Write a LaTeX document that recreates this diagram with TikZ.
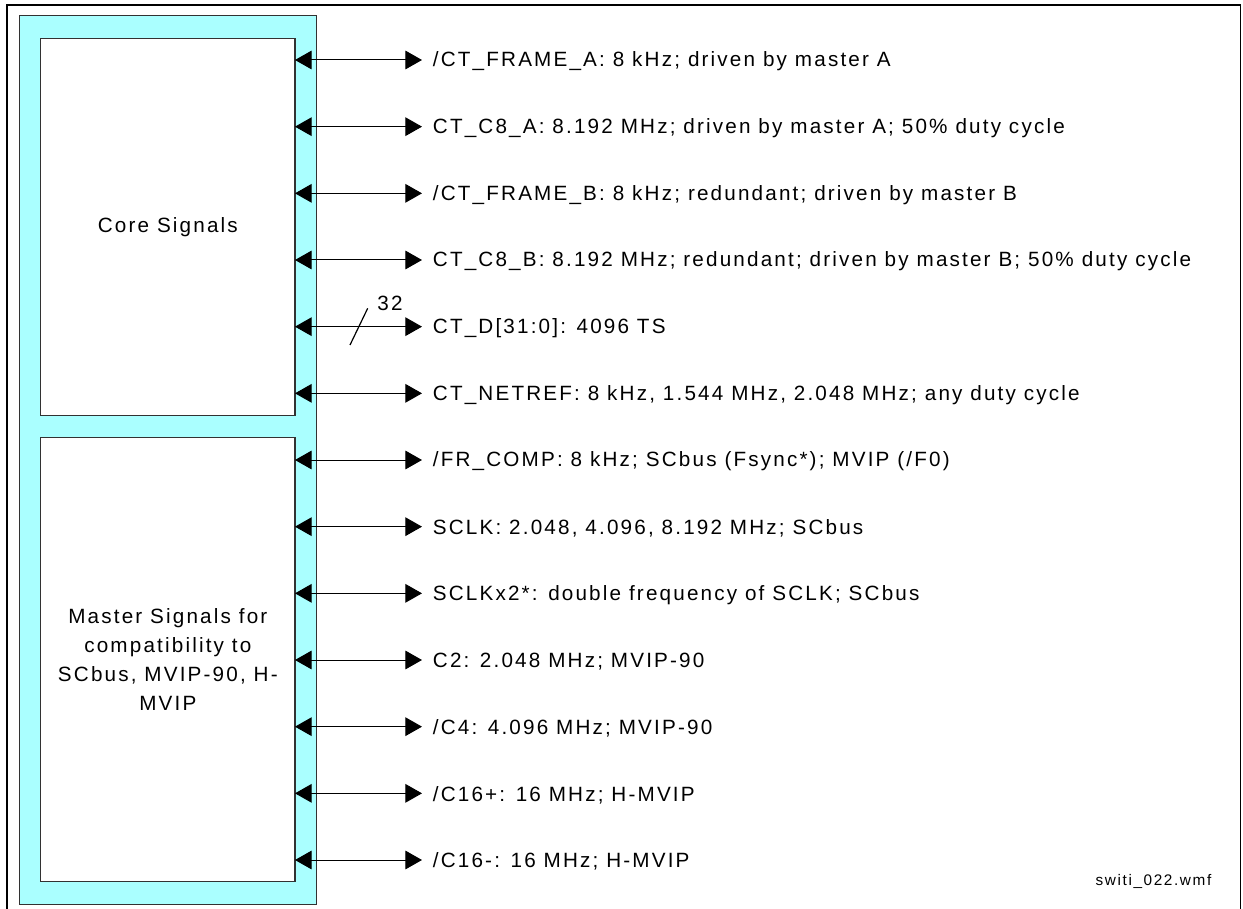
\documentclass[tikz,border=0pt]{standalone}
\usepackage{fontspec}
\setmainfont{Liberation Sans}[LetterSpace=10.5]
\usetikzlibrary{arrows.meta,fit}
\definecolor{lightcyan}{RGB}{170,255,255}
\definecolor{boxline}{RGB}{50,50,50}
\begin{document}
\begin{tikzpicture}[x=0.75pt,y=-0.75pt,
  bus/.style={line width=0.75pt, {Triangle[length=12.5pt,width=14pt]}-{Triangle[length=12.5pt,width=14pt]}},
  lbl/.style={anchor=west, inner xsep=8pt, inner ysep=0pt, font=\fontsize{15.5}{18}\selectfont},
  sigbox/.style={draw=boxline, line width=0.8pt, fill=white, inner sep=0pt},
  frame/.style={draw=boxline, line width=0.8pt, fill=lightcyan, inner sep=0pt}]
\useasboundingbox (0,0) rectangle (1243,909);
\draw[line width=1pt] (7,909) -- (7,5) -- (1240.7,5) -- (1240.7,909);
% cyan frame
\coordinate (f1) at (19.5,15.7);
\coordinate (f2) at (316.5,904.3);
\node[frame, fit=(f1)(f2)] (cyan) {};
\coordinate (c1) at (40.7,38.3);
\coordinate (c2) at (295,415.7);
\node[sigbox, fit=(c1)(c2)] (core) {};
\coordinate (m1) at (40.7,437.7);
\coordinate (m2) at (295,881.7);
\node[sigbox, fit=(m1)(m2)] (master) {};
\node[font=\fontsize{15.5}{18}\selectfont] (coretxt) at (core.center) {Core Signals};
\node[font=\fontsize{15.5}{21.8}\selectfont, align=center] (mastertxt) at (master.center) {Master Signals for\\compatibility to\\SCbus, MVIP-90, H-\\MVIP};
% signals
\foreach \i/\t in {
 0/{/CT\_FRAME\_A: 8 kHz; driven by master A},
 1/{CT\_C8\_A: 8.192 MHz; driven by master A; 50\% duty cycle},
 2/{/CT\_FRAME\_B: 8 kHz; redundant; driven by master B},
 3/{CT\_C8\_B: 8.192 MHz; redundant; driven by master B; 50\% duty cycle},
 4/{CT\_D[31:0]: 4096 TS},
 5/{CT\_NETREF: 8 kHz, 1.544 MHz, 2.048 MHz; any duty cycle},
 6/{/FR\_COMP: 8 kHz; SCbus (Fsync*); MVIP (/F0)},
 7/{SCLK: 2.048, 4.096, 8.192 MHz; SCbus},
 8/{SCLKx2*: double frequency of SCLK; SCbus},
 9/{C2: 2.048 MHz; MVIP-90},
 10/{/C4: 4.096 MHz; MVIP-90},
 11/{/C16+: 16 MHz; H-MVIP},
 12/{/C16-: 16 MHz; H-MVIP}}{
  \pgfmathsetmacro{\yy}{60+66.667*\i}
  \node[lbl] (s\i) at (422,\yy+1.5) {\t};
  \coordinate (e\i) at (295,\yy);
  \draw[bus] (e\i) -- (s\i.west |- e\i);
}
\coordinate (sl1) at (350,345);
\coordinate (sl2) at (367.7,308.3);
\draw[line width=0.9pt] (sl1) -- (sl2);
\node[font=\fontsize{15.5}{18}\selectfont] (n32) at (390,303) {32};
\node[font=\fontsize{11.5}{14}\selectfont, anchor=east] (fn) at (1216,881.7) {switi\_022.wmf};
\end{tikzpicture}
\end{document}
